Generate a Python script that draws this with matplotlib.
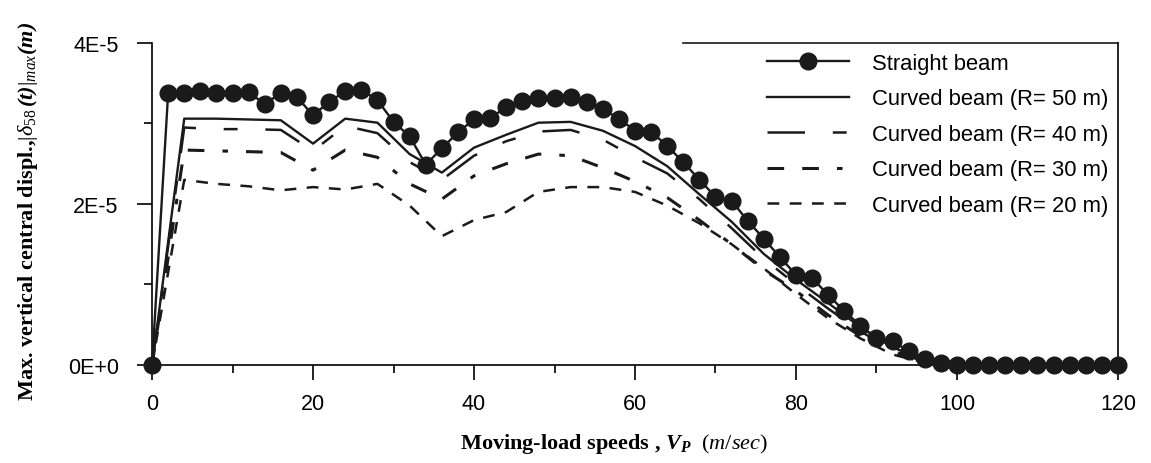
import numpy as np
import matplotlib
matplotlib.use("Agg")
import matplotlib.pyplot as plt
from matplotlib.ticker import MultipleLocator, FixedFormatter, FixedLocator

# speeds (m/sec)
v_straight = np.arange(0, 122, 2)
v_curved = np.arange(0, 124, 4)

# max vertical central displacement (x 1e-5 m)
d_straight = [0.00, 3.38, 3.38, 3.40, 3.38, 3.38, 3.39, 3.24, 3.38, 3.33,
              3.10, 3.27, 3.40, 3.42, 3.29, 3.02, 2.84, 2.49, 2.69, 2.89,
              3.05, 3.07, 3.20, 3.28, 3.32, 3.32, 3.33, 3.27, 3.18, 3.06,
              2.91, 2.90, 2.72, 2.52, 2.30, 2.09, 2.04, 1.79, 1.57, 1.34,
              1.12, 1.08, 0.87, 0.67, 0.49, 0.33, 0.30, 0.17, 0.08, 0.02,
              0.00, 0.00, 0.00, 0.00, 0.00, 0.00, 0.00, 0.00, 0.00, 0.00,
              0.00]
d_r50 = [0.00, 3.06, 3.06, 3.05, 3.04, 2.75, 3.06, 3.01, 2.62, 2.39,
         2.70, 2.86, 3.01, 3.02, 2.91, 2.72, 2.47, 2.12, 1.78, 1.38,
         1.06, 0.77, 0.47, 0.22, 0.06, 0.00, 0.00, 0.00, 0.00, 0.00, 0.00]
d_r40 = [0.00, 2.95, 2.93, 2.93, 2.92, 2.66, 2.97, 2.88, 2.52, 2.30,
         2.60, 2.78, 2.90, 2.92, 2.80, 2.58, 2.38, 2.06, 1.70, 1.32,
         1.00, 0.70, 0.42, 0.18, 0.04, 0.00, 0.00, 0.00, 0.00, 0.00, 0.00]
d_r30 = [0.00, 2.67, 2.66, 2.65, 2.64, 2.42, 2.67, 2.58, 2.25, 2.06,
         2.35, 2.50, 2.62, 2.60, 2.45, 2.28, 2.08, 1.80, 1.50, 1.18,
         0.92, 0.62, 0.36, 0.15, 0.03, 0.00, 0.00, 0.00, 0.00, 0.00, 0.00]
d_r20 = [0.00, 2.30, 2.25, 2.22, 2.17, 2.21, 2.18, 2.25, 1.98, 1.60,
         1.80, 1.90, 2.15, 2.21, 2.21, 2.15, 1.98, 1.76, 1.50, 1.20,
         0.88, 0.58, 0.33, 0.13, 0.03, 0.00, 0.00, 0.00, 0.00, 0.00, 0.00]

labels = ['Straight beam', 'Curved beam (R= 50 m)', 'Curved beam (R= 40 m)',
          'Curved beam (R= 30 m)', 'Curved beam (R= 20 m)']

plt.rcParams['lines.scale_dashes'] = False
plt.rcParams['mathtext.fontset'] = 'custom'
plt.rcParams['mathtext.rm'] = 'Liberation Serif'
plt.rcParams['mathtext.it'] = 'Liberation Serif:italic'
plt.rcParams['mathtext.bf'] = 'Liberation Serif:bold'
plt.rcParams['mathtext.bfit'] = 'Liberation Serif:italic:bold'

fig = plt.figure(figsize=(11.51, 4.64), dpi=100)
ax = fig.add_axes([0.1321, 0.2112, 0.8392, 0.6940])

k = 1e-5
col = '#1a1a1a'
ax.plot(v_straight, np.array(d_straight) * k, '-o', color=col, lw=1.7,
        ms=12, label=labels[0], zorder=5)
ax.plot(v_curved, np.array(d_r50) * k, '-', color=col, lw=1.7, label=labels[1])
ax.plot(v_curved, np.array(d_r40) * k, color=col, lw=1.8,
        dashes=[27, 20, 10, 20], label=labels[2])
ax.plot(v_curved, np.array(d_r30) * k, color=col, lw=2.2,
        dashes=[12, 13, 12, 13, 4, 13], label=labels[3])
ax.plot(v_curved, np.array(d_r20) * k, color=col, lw=1.8,
        dashes=[8.5, 7.5], label=labels[4])

ax.set_xlim(0, 120)
ax.set_ylim(0, 4e-5)
ax.xaxis.set_major_locator(MultipleLocator(20))
ax.xaxis.set_minor_locator(MultipleLocator(10))
ax.yaxis.set_major_locator(FixedLocator([0, 2e-5, 4e-5]))
ax.yaxis.set_major_formatter(FixedFormatter(['0E+0', '2E-5', '4E-5']))
ax.yaxis.set_minor_locator(FixedLocator([1e-5, 3e-5]))
ax.tick_params(which='major', direction='out', length=11, width=1.2,
               labelsize=15.5)
ax.tick_params(axis='x', which='major', pad=9)
ax.tick_params(axis='y', which='major', pad=13)
ax.tick_params(which='minor', direction='out', length=6, width=1.2)
for lab in ax.get_xticklabels() + ax.get_yticklabels():
    lab.set_fontfamily('Liberation Sans')

for s in ['left', 'bottom', 'right']:
    ax.spines[s].set_linewidth(1.2)
ax.spines['top'].set_visible(False)
# top rule over the legend only
ax.plot([66, 120], [4e-5, 4e-5], color=col, lw=1.2, clip_on=False)

for line in ax.lines:
    line.set_clip_on(False)

ax.set_xlabel(r'Moving-load speeds , $\mathbfit{V_P}$  $(m/sec)$',
              fontfamily='Liberation Serif', fontweight='bold', fontsize=16)
ax.xaxis.set_label_coords(0.478, -0.205)
ax.set_ylabel(r'Max. vertical central displ.,$|\delta_{58}\,\mathbfit{(t)}|_{max}\mathbfit{(m)}$',
              fontfamily='Liberation Serif', fontweight='bold', fontsize=16)
ax.yaxis.set_label_coords(-0.116, 0.48)

leg = ax.legend(loc='upper right', frameon=False,
                handlelength=3.7, handletextpad=1.05, labelspacing=0.66,
                borderaxespad=0.2, borderpad=0.25,
                prop={'family': 'Liberation Sans', 'size': 15.8})

fig.savefig('out.png', dpi=100)
